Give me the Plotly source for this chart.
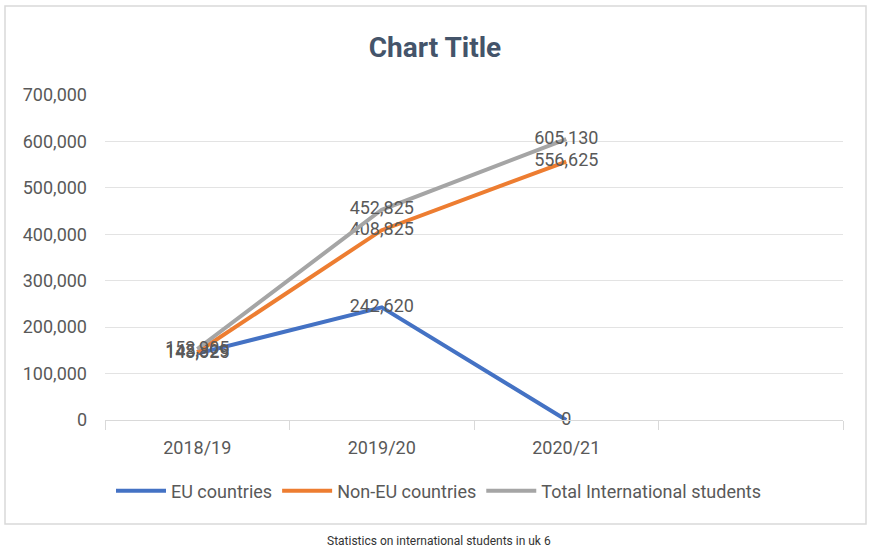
import plotly.graph_objects as go

categories = ["2018/19", "2019/20", "2020/21", " "]
eu_values = [143025, 242620, 0]
non_eu_values = [145829, 408825, 556625]
total_values = [152905, 452825, 605130]

series = [
    ("EU countries", eu_values, "#4472C4"),
    ("Non-EU countries", non_eu_values, "#ED7D31"),
    ("Total International students", total_values, "#A5A5A5"),
]

label_font = dict(family="Roboto", size=18, color="#595959")

W, H = 878, 550

fig = go.Figure()
for name, vals, color in series:
    fig.add_trace(go.Scatter(
        x=categories[:len(vals)], y=vals, name=name, mode="lines+text",
        line=dict(color=color, width=4),
        text=[f"{v:,}" for v in vals], textposition="middle center",
        textfont=label_font, cliponaxis=False,
    ))

fig.update_layout(
    width=W, height=H,
    paper_bgcolor="white", plot_bgcolor="white",
    margin=dict(l=105, r=35, t=95, b=130),
    title=dict(text="<b>Chart Title</b>", x=435 / W, xref="container", xanchor="center",
               y=1 - 47 / H, yref="container", yanchor="middle",
               font=dict(family="Roboto", size=28, color="#44546A")),
    showlegend=True,
    legend=dict(orientation="h", x=439 / W, xref="container", xanchor="center",
                y=1 - 491 / H, yref="container", yanchor="middle",
                font=dict(family="Roboto", size=18, color="#595959"),
                itemwidth=50, traceorder="normal"),
    xaxis=dict(type="category", categoryorder="array", categoryarray=categories,
               range=[-0.5, 3.5], showgrid=False, showline=True, linecolor="#D9D9D9",
               ticks="outside", tickson="boundaries", ticklen=9, tickcolor="#D9D9D9",
               tickfont=dict(family="Roboto", size=18, color="#595959"),
               ticklabelstandoff=11, zeroline=False),
    yaxis=dict(range=[0, 700000], dtick=100000, tickformat=",", showgrid=True,
               gridcolor="#E3E3E3", gridwidth=1, showline=False, zeroline=False,
               tickfont=dict(family="Roboto", size=18, color="#595959"),
               ticklabelstandoff=17),
    shapes=[dict(type="rect", xref="paper", yref="paper",
                 x0=(5 - 105) / 738, x1=(866 - 105) / 738,
                 y0=(420 - 524) / 325, y1=(420 - 6) / 325,
                 line=dict(color="#D9D9D9", width=1.5), fillcolor="rgba(0,0,0,0)",
                 layer="below")],
    annotations=[dict(text="Statistics on international students in uk 6",
                      xref="paper", x=(439 - 105) / 738, xanchor="center",
                      yref="paper", y=(420 - 541) / 325, yanchor="middle",
                      showarrow=False,
                      font=dict(family="Roboto", size=12, color="#333333"))],
)

fig.write_html("out.html", config={"displayModeBar": False},
               post_script="document.body.style.margin='0px';document.body.style.overflow='hidden';")
